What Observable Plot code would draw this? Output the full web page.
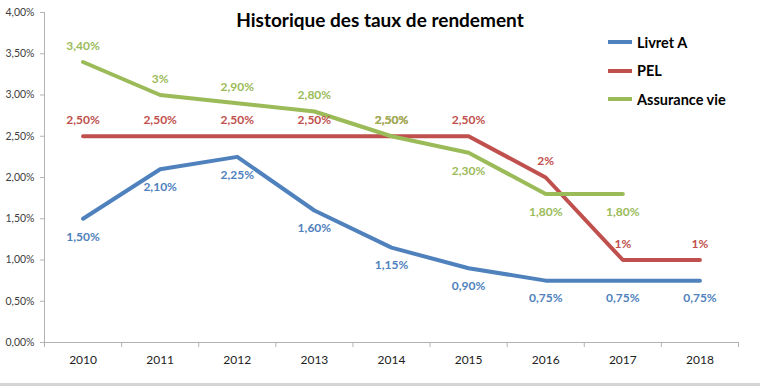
<!DOCTYPE html>
<html><head><meta charset="utf-8">
<script src="https://cdn.jsdelivr.net/npm/d3@7"></script>
<script src="https://cdn.jsdelivr.net/npm/@observablehq/plot@0.6"></script>
<style>
body{margin:0;background:#fff;font-family:Lato,sans-serif;}
#wrap{position:relative;width:760px;height:386px;overflow:hidden;}
#title{position:absolute;top:8px;left:0;width:760px;text-align:center;font-weight:bold;font-size:19px;color:#000;}
#legend{position:absolute;left:608px;top:28px;}
.item{display:flex;align-items:center;height:28.5px;font-weight:bold;font-size:14.5px;color:#000;}
.sw{width:24px;height:4px;margin-right:5px;}
#bottom{position:absolute;left:0;top:383px;width:760px;height:3px;background:#d4d4d4;}
</style>
</head><body>
<div id="wrap">
<div id="chart"></div>
<div id="title">Historique des taux de rendement</div>
<div id="legend"></div>
<div id="bottom"></div>
</div>
<script>
const years = [2010, 2011, 2012, 2013, 2014, 2015, 2016, 2017, 2018];
const seriesNames = ["Livret A", "PEL", "Assurance vie"];
const seriesColors = ["#4f81bd", "#c0504d", "#9bbb59"];
const livretA = [1.5, 2.1, 2.25, 1.6, 1.15, 0.9, 0.75, 0.75, 0.75];
const livretALabels = ["1,50%", "2,10%", "2,25%", "1,60%", "1,15%", "0,90%", "0,75%", "0,75%", "0,75%"];
const pel = [2.5, 2.5, 2.5, 2.5, 2.5, 2.5, 2, 1, 1];
const pelLabels = ["2,50%", "2,50%", "2,50%", "2,50%", "2,50%", "2,50%", "2%", "1%", "1%"];
const assurance = [3.4, 3, 2.9, 2.8, 2.5, 2.3, 1.8, 1.8, null];
const assuranceLabels = ["3,40%", "3%", "2,90%", "2,80%", "2,50%", "2,30%", "1,80%", "1,80%", null];
const yTicks = [0, 0.5, 1, 1.5, 2, 2.5, 3, 3.5, 4];

const allValues = [livretA, pel, assurance];
const allLabels = [livretALabels, pelLabels, assuranceLabels];

function rowsFor(k) {
  return years.map((year, i) => ({year, value: allValues[k][i], label: allLabels[k][i], series: seriesNames[k]}))
    .filter(d => d.value != null);
}
const rows = seriesNames.map((_, k) => rowsFor(k));

// label placement rules: Livret A below, PEL above, Assurance vie above until 2014 then below
const below = (k, d) => k === 0 || (k === 2 && d.year >= 2015);

const fmtPct = d => d.toFixed(2).replace(".", ",") + "%";
const boundaries = [...years.map(y => y - 0.5), years[years.length - 1] + 0.5];
const axisColor = "#b3b3b3";

const marks = [
  Plot.ruleY([0], {stroke: axisColor, strokeWidth: 1}),
  Plot.ruleX([boundaries[0]], {stroke: axisColor, strokeWidth: 1}),
  Plot.axisY(yTicks, {label: null, tickSize: 4, tickPadding: 6, tickFormat: fmtPct, stroke: axisColor, fill: "#404040", fontSize: 10.5}),
  Plot.axisX(boundaries, {label: null, tickSize: 5, tickFormat: () => "", stroke: axisColor}),
  Plot.axisX(years, {label: null, tickSize: 0, tickPadding: 13, tickFormat: d => String(d), fill: "#222", fontSize: 12})
];
rows.forEach((r, k) => {
  marks.push(Plot.lineY(r, {x: "year", y: "value", stroke: seriesColors[k], strokeWidth: 4, strokeLinejoin: "round"}));
});
rows.forEach((r, k) => {
  marks.push(Plot.text(r.filter(d => below(k, d)), {x: "year", y: "value", text: "label", dy: 18, fill: seriesColors[k], fontWeight: "bold", fontSize: 12}));
  marks.push(Plot.text(r.filter(d => !below(k, d)), {x: "year", y: "value", text: "label", dy: -16, fill: seriesColors[k], fontWeight: "bold", fontSize: 12}));
});

const chart = Plot.plot({
  width: 760,
  height: 383,
  marginLeft: 44,
  marginRight: 22,
  marginTop: 12,
  marginBottom: 41,
  style: {fontFamily: "Lato, sans-serif", background: "#fff"},
  x: {type: "linear", domain: [boundaries[0], boundaries[boundaries.length - 1]], axis: null, label: null},
  y: {domain: [0, 4], axis: null, label: null},
  marks
});
document.getElementById("chart").appendChild(chart);

const legend = document.getElementById("legend");
seriesNames.forEach((n, k) => {
  const it = document.createElement("div");
  it.className = "item";
  const sw = document.createElement("span");
  sw.className = "sw";
  sw.style.background = seriesColors[k];
  it.appendChild(sw);
  it.appendChild(document.createTextNode(n));
  legend.appendChild(it);
});
</script>
</body></html>
